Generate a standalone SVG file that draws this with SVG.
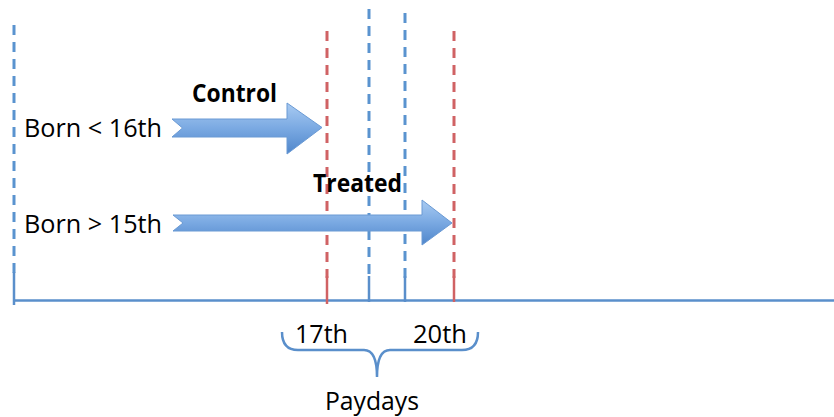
<svg xmlns="http://www.w3.org/2000/svg" width="834" height="417" viewBox="0 0 834 417">
<defs>
<linearGradient id="ag" x1="0" y1="0" x2="0" y2="1">
<stop offset="0" stop-color="#a9cbf2"/>
<stop offset="0.5" stop-color="#7aa9e2"/>
<stop offset="1" stop-color="#4f86cb"/>
</linearGradient>
<style>
.bd{stroke:#5a93cf;stroke-width:3;stroke-dasharray:10 7;fill:none}
.rd{stroke:#d06264;stroke-width:3;stroke-dasharray:10 7;fill:none}
.bs{stroke:#5a8fcb;stroke-width:2.5;fill:none}
.rs{stroke:#d06264;stroke-width:2.5;fill:none}
.arr{fill:url(#ag);stroke:#6a9ad4;stroke-width:1}
.t{font-family:"Open Sans","DejaVu Sans",sans-serif;font-size:25.6px;fill:#000}
.b{font-weight:bold}
</style>
</defs>
<rect width="834" height="417" fill="#fff"/>
<g id="connectors">
<line class="bs" x1="14" y1="300.5" x2="834" y2="300.5"/>
<line class="bd" x1="14" y1="25" x2="14" y2="275"/>
<line class="bs" x1="14" y1="272" x2="14" y2="305"/>
<line class="rd" x1="327" y1="31" x2="327" y2="278"/>
<line class="rs" x1="327" y1="276" x2="327" y2="304"/>
<line class="bd" x1="369" y1="9" x2="369" y2="278"/>
<line class="bs" x1="369" y1="276" x2="369" y2="302"/>
<line class="bd" x1="405" y1="13" x2="405" y2="278"/>
<line class="bs" x1="405" y1="276" x2="405" y2="302"/>
<line class="rd" x1="454" y1="31" x2="454" y2="278"/>
<line class="rs" x1="454" y1="276" x2="454" y2="302"/>
<path class="bs" d="M282,332 Q282,350 298,350 L364,350 Q377,350 377,377 Q377,350 390,350 L462,350 Q478,350 478,332"/>
</g>
<g id="arrow-control">
<path class="arr" d="M172,119 L287,119 L287,103 L322,127.5 L287,154 L287,137 L172,137 L182.5,128 Z"/>
</g>
<g id="arrow-treated">
<path class="arr" d="M173,215 L422,215 L422,200 L452,223 L422,245 L422,231 L173,231 L183,223 Z"/>
</g>
<g id="label-control"><text class="t b" x="192" y="101.5" textLength="85" lengthAdjust="spacingAndGlyphs">Control</text></g>
<g id="label-treated"><text class="t b" x="313" y="191.5" textLength="89" lengthAdjust="spacingAndGlyphs">Treated</text></g>
<g id="label-born-lt"><text class="t" x="24" y="136.7" textLength="138" lengthAdjust="spacingAndGlyphs">Born &lt; 16th</text></g>
<g id="label-born-gt"><text class="t" x="24" y="233" textLength="138" lengthAdjust="spacingAndGlyphs">Born &gt; 15th</text></g>
<g id="label-17th"><text class="t" x="295" y="342.7" textLength="53" lengthAdjust="spacingAndGlyphs">17th</text></g>
<g id="label-20th"><text class="t" x="413" y="342.7" textLength="54" lengthAdjust="spacingAndGlyphs">20th</text></g>
<g id="label-paydays"><text class="t" x="325" y="410" textLength="94" lengthAdjust="spacingAndGlyphs">Paydays</text></g>
</svg>
